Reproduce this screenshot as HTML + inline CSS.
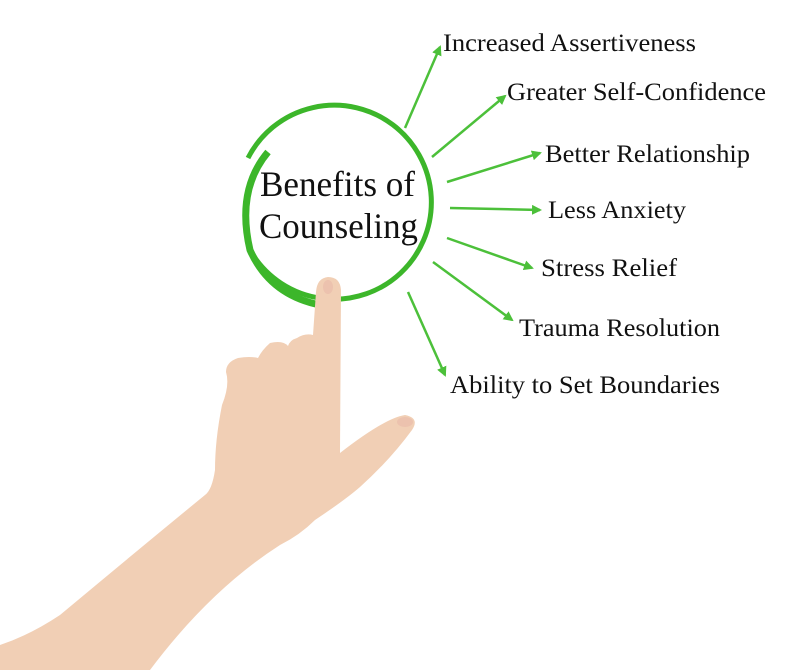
<!DOCTYPE html><html><head><style>body{margin:0;background:#fff}svg{display:block}text{font-family:"Liberation Serif",serif;fill:#111}</style></head><body>
<svg width="800" height="670" viewBox="0 0 800 670">
<defs><marker id="a" markerWidth="10" markerHeight="10" refX="8" refY="5" orient="auto" markerUnits="userSpaceOnUse"><path d="M0,0 L10,5 L0,10 Z" fill="#4cc03a"/></marker></defs>
<path d="M248,158 A97,97 0 1 1 253,255" fill="none" stroke="#3cb62a" stroke-width="5"/>
<path d="M268,152 Q236,190 250,250 Q270,295 320,305" fill="none" stroke="#3cb62a" stroke-width="7"/>
<text x="260" y="196" font-size="36" textLength="155" lengthAdjust="spacingAndGlyphs">Benefits of</text>
<text x="259" y="238" font-size="36" textLength="159" lengthAdjust="spacingAndGlyphs">Counseling</text>
<g stroke="#4cc03a" stroke-width="2.5" marker-end="url(#a)">
<line x1="405" y1="128" x2="440" y2="47"/>
<line x1="432" y1="157" x2="505" y2="96"/>
<line x1="447" y1="182" x2="540" y2="153"/>
<line x1="450" y1="208" x2="540" y2="210"/>
<line x1="447" y1="238" x2="532" y2="268"/>
<line x1="433" y1="262" x2="512" y2="320"/>
<line x1="408" y1="292" x2="445" y2="375"/>
</g>
<g font-size="25">
<text x="443" y="51" textLength="253" lengthAdjust="spacingAndGlyphs">Increased Assertiveness</text>
<text x="507" y="100" textLength="259" lengthAdjust="spacingAndGlyphs">Greater Self-Confidence</text>
<text x="545" y="162" textLength="205" lengthAdjust="spacingAndGlyphs">Better Relationship</text>
<text x="548" y="218" textLength="138" lengthAdjust="spacingAndGlyphs">Less Anxiety</text>
<text x="541" y="276" textLength="136" lengthAdjust="spacingAndGlyphs">Stress Relief</text>
<text x="519" y="336" textLength="201" lengthAdjust="spacingAndGlyphs">Trauma Resolution</text>
<text x="450" y="393" textLength="270" lengthAdjust="spacingAndGlyphs">Ability to Set Boundaries</text>
</g>
<path fill="#f1cfb5" d="M0,645 L0,670 L150,670 Q210,590 280,545 Q300,535 315,520 Q345,500 360,487 Q390,460 412,430 Q420,418 405,415 Q385,418 340,453 L341,290 Q340,277 328,277 Q317,278 316,292 L313,335 Q305,333 297,338 Q290,340 288,346 Q283,340 270,343 Q262,350 258,358 Q250,356 238,358 Q226,362 226,372 Q230,385 222,405 Q215,440 215,470 Q212,490 205,495 Q150,540 60,615 Q30,635 0,645 Z"/>
<ellipse cx="328" cy="287" rx="5" ry="7" fill="#ecc2ae"/>
<ellipse cx="405" cy="422" rx="8" ry="5" fill="#ecc2ae"/>
</svg></body></html>
